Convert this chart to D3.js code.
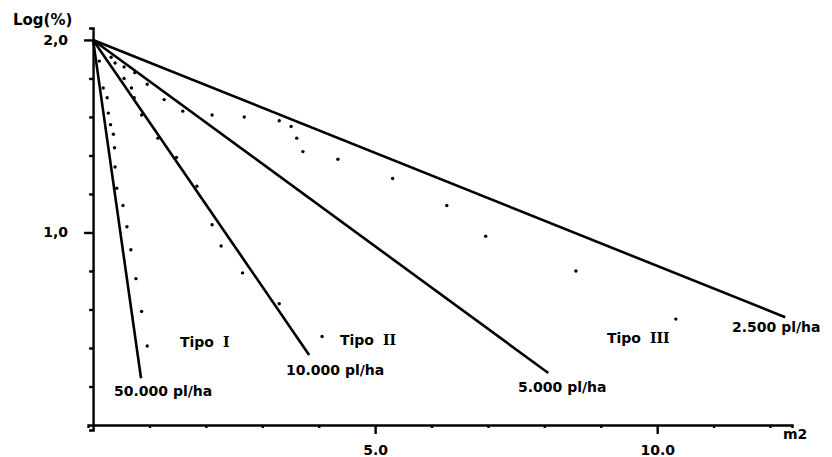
<!DOCTYPE html>
<html>
<head>
<meta charset="utf-8">
<script src="https://cdn.jsdelivr.net/npm/d3@7"></script>
<style>
  body { margin: 0; background: #fff; }
  svg text { font-family: "DejaVu Sans", sans-serif; font-weight: bold; fill: #000; }
  .axis path, .axis line { stroke: #000; stroke-width: 2.4; }
</style>
</head>
<body>
<div id="chart"></div>
<script>
// regression lines: Log(%) falls from 2.0 at x = 0 to the end point
const densities = ["50.000 pl/ha", "10.000 pl/ha", "5.000 pl/ha", "2.500 pl/ha"];
const lineEndX = [0.85, 3.83, 8.07, 12.27];
const lineEndY = [0.243, 0.364, 0.27, 0.56];

// observed points (m2, Log %)
const tipoIX = [0.11, 0.18, 0.25, 0.27, 0.31, 0.36, 0.38, 0.39, 0.42, 0.53, 0.60, 0.67, 0.76, 0.86, 0.96];
const tipoIY = [1.89, 1.75, 1.70, 1.62, 1.56, 1.51, 1.44, 1.34, 1.23, 1.14, 1.03, 0.91, 0.76, 0.59, 0.41];
const tipoIIX = [0.39, 0.55, 0.68, 0.73, 0.86, 1.15, 1.48, 1.84, 2.11, 2.27, 2.65, 3.30, 4.06];
const tipoIIY = [1.88, 1.80, 1.75, 1.70, 1.61, 1.49, 1.39, 1.24, 1.04, 0.93, 0.79, 0.63, 0.46];
const tipoIIIX = [0.32, 0.55, 0.74, 0.96, 1.26, 1.59, 2.11, 2.68, 3.30, 3.51, 3.61, 3.72, 4.34, 5.31, 6.27, 6.96, 8.56, 10.33];
const tipoIIIY = [1.91, 1.86, 1.83, 1.77, 1.69, 1.63, 1.61, 1.60, 1.58, 1.55, 1.49, 1.42, 1.38, 1.28, 1.14, 0.98, 0.80, 0.55];

const yTicks = [0.2, 0.4, 0.6, 0.8, 1.0, 1.2, 1.4, 1.6, 1.8, 2.0];
const yTickLabels = {"1": "1,0", "2": "2,0"};
const xTicks = [1, 2, 3, 4, 5, 6, 7, 8, 9, 10, 11, 12];
const xTickLabels = {"5": "5.0", "10": "10.0"};

const width = 832, height = 457;

const svg = d3.select("#chart").append("svg")
    .attr("width", width)
    .attr("height", height);

const x = d3.scaleLinear().domain([-0.09, 12.39]).range([88, 792]);
const y = d3.scaleLinear().domain([-0.026, 2.062]).range([430, 28]);

// x axis
const gx = svg.append("g")
    .attr("class", "axis")
    .attr("transform", `translate(0,${y(0)})`)
    .call(d3.axisBottom(x)
        .tickValues(xTicks)
        .tickSizeOuter(0)
        .tickSize(3)
        .tickPadding(17)
        .tickFormat(d => xTickLabels[d] || ""));
gx.selectAll(".tick line").attr("y2", d => xTickLabels[d] ? 9 : 3);
gx.selectAll(".tick text").attr("font-size", 14).attr("font-family", null);

// y axis
const gy = svg.append("g")
    .attr("class", "axis")
    .attr("transform", `translate(${x(0)},0)`)
    .call(d3.axisLeft(y)
        .tickValues(yTicks)
        .tickSizeOuter(0)
        .tickSize(4)
        .tickPadding(21)
        .tickFormat(d => yTickLabels[Math.round(d * 10) / 10] || ""));
gy.selectAll(".tick line").attr("x2", d => yTickLabels[Math.round(d * 10) / 10] ? -9 : -4);
gy.selectAll(".tick text").attr("font-size", 14).attr("font-family", null);

// regression lines
svg.append("g")
    .selectAll("line")
    .data(densities)
    .join("line")
    .attr("x1", x(0))
    .attr("y1", y(2))
    .attr("x2", (d, i) => x(lineEndX[i]))
    .attr("y2", (d, i) => y(lineEndY[i]))
    .attr("stroke", "#000")
    .attr("stroke-width", 2.6);

// dots
const dots = [
    ...tipoIX.map((v, i) => [v, tipoIY[i]]),
    ...tipoIIX.map((v, i) => [v, tipoIIY[i]]),
    ...tipoIIIX.map((v, i) => [v, tipoIIIY[i]])
];
svg.append("g")
    .selectAll("circle")
    .data(dots)
    .join("circle")
    .attr("cx", d => x(d[0]))
    .attr("cy", d => y(d[1]))
    .attr("r", 1.7)
    .attr("fill", "#000");

// density labels at line ends
const labelPos = [[114, 396], [286, 375], [518, 392], [732, 332]];
svg.append("g")
    .selectAll("text")
    .data(densities)
    .join("text")
    .attr("x", (d, i) => labelPos[i][0])
    .attr("y", (d, i) => labelPos[i][1])
    .attr("font-size", 14)
    .text(d => d);

// type labels
const tipos = [["I", 180, 347], ["II", 340, 345], ["III", 607, 343]];
tipos.forEach(([num, tx, ty]) => {
    const t = svg.append("text")
        .attr("x", tx)
        .attr("y", ty)
        .attr("font-size", 14);
    t.append("tspan").text("Tipo ");
    t.append("tspan")
        .attr("font-family", "DejaVu Serif, serif")
        .attr("dx", 4)
        .text(num);
});

// axis titles
svg.append("text").attr("x", 13).attr("y", 25).attr("font-size", 15).text("Log(%)");
svg.append("text").attr("x", 783).attr("y", 439).attr("font-size", 14).text("m2");
</script>
</body>
</html>
